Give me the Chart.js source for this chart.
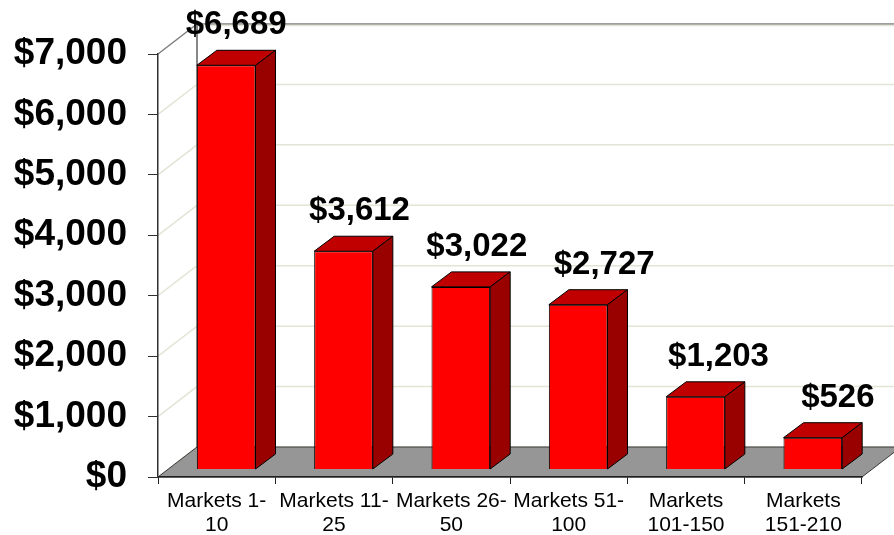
<!DOCTYPE html>
<html>
<head>
<meta charset="utf-8">
<script src="https://cdn.jsdelivr.net/npm/chart.js@4/dist/chart.umd.min.js"></script>
<style>
  html, body { margin: 0; padding: 0; background: #ffffff; }
  #wrap { width: 894px; height: 535px; }
</style>
</head>
<body>
<div id="wrap"><canvas id="c" width="894" height="535"></canvas></div>
<script>
// ---- data ----
const categories = [
  ["Markets 1-", "10"],
  ["Markets 11-", "25"],
  ["Markets 26-", "50"],
  ["Markets 51-", "100"],
  ["Markets", "101-150"],
  ["Markets", "151-210"]
];
const values = [6689, 3612, 3022, 2727, 1203, 526];
const yTicks = [0, 1000, 2000, 3000, 4000, 5000, 6000, 7000];

// ---- 3D look ----
const FONT = "'Liberation Sans', Arial, Helvetica, sans-serif";
const DEPTH = { dx: 39, dy: -30 };   // full floor depth
const FRONT = { dx: 9.5, dy: -7.5 }; // bar front face offset
const BAR = { dx: 20, dy: -15 };     // bar depth

function money(v) { return '$' + v.toLocaleString('en-US'); }

const threeD = {
  id: 'threeD',
  defaults: { labelNudgeX: [] },
  beforeDraw(chart) {
    const { ctx, chartArea: a, scales: { y } } = chart;
    ctx.save();
    // left side wall
    ctx.fillStyle = '#ffffff';
    ctx.beginPath();
    ctx.moveTo(a.left, a.top);
    ctx.lineTo(a.left + DEPTH.dx, a.top + DEPTH.dy);
    ctx.lineTo(a.left + DEPTH.dx, a.bottom + DEPTH.dy);
    ctx.lineTo(a.left, a.bottom);
    ctx.closePath();
    ctx.fill();
    // gridlines on side and back walls
    yTicks.forEach(t => {
      const py = y.getPixelForValue(t);
      const top = t === yTicks[yTicks.length - 1];
      ctx.strokeStyle = top ? '#808080' : '#e4e4d6';
      ctx.lineWidth = 1.5;
      ctx.beginPath();
      ctx.moveTo(a.left, py);
      ctx.lineTo(a.left + DEPTH.dx, py + DEPTH.dy);
      ctx.lineTo(a.right + DEPTH.dx, py + DEPTH.dy);
      ctx.stroke();
      if (top) {
        ctx.strokeStyle = '#e4e4d6';
        ctx.beginPath();
        ctx.moveTo(a.left + DEPTH.dx, py + DEPTH.dy + 1.5);
        ctx.lineTo(a.right + DEPTH.dx, py + DEPTH.dy + 1.5);
        ctx.stroke();
      }
    });
    // back-left corner edge
    ctx.strokeStyle = '#606060';
    ctx.lineWidth = 1.5;
    ctx.beginPath();
    ctx.moveTo(a.left + DEPTH.dx, a.top + DEPTH.dy);
    ctx.lineTo(a.left + DEPTH.dx, a.bottom + DEPTH.dy);
    ctx.stroke();
    // floor
    ctx.fillStyle = '#969696';
    ctx.strokeStyle = '#3a3a3a';
    ctx.lineWidth = 1;
    ctx.beginPath();
    ctx.moveTo(a.left, a.bottom);
    ctx.lineTo(a.right, a.bottom);
    ctx.lineTo(a.right + DEPTH.dx, a.bottom + DEPTH.dy);
    ctx.lineTo(a.left + DEPTH.dx, a.bottom + DEPTH.dy);
    ctx.closePath();
    ctx.fill();
    ctx.stroke();
    ctx.restore();
  },
  beforeDatasetsDraw(chart) {
    chart.ctx.save();
    chart.ctx.translate(FRONT.dx, FRONT.dy);
  },
  afterDatasetsDraw(chart, args, opts) {
    const ctx = chart.ctx;
    ctx.restore();
    const meta = chart.getDatasetMeta(0);
    const nudge = opts.labelNudgeX || [];
    ctx.save();
    ctx.lineWidth = 1;
    ctx.strokeStyle = '#000000';
    ctx.lineJoin = 'round';
    meta.data.forEach((bar, i) => {
      const p = bar.getProps(['x', 'y', 'base', 'width'], true);
      const L = p.x - p.width / 2 + FRONT.dx;
      const R = p.x + p.width / 2 + FRONT.dx;
      const T = p.y + FRONT.dy;
      const B = p.base + FRONT.dy;
      // top face
      ctx.fillStyle = '#c00000';
      ctx.beginPath();
      ctx.moveTo(L, T);
      ctx.lineTo(R, T);
      ctx.lineTo(R + BAR.dx, T + BAR.dy);
      ctx.lineTo(L + BAR.dx, T + BAR.dy);
      ctx.closePath();
      ctx.fill();
      ctx.stroke();
      // side face
      ctx.fillStyle = '#990000';
      ctx.beginPath();
      ctx.moveTo(R, T);
      ctx.lineTo(R + BAR.dx, T + BAR.dy);
      ctx.lineTo(R + BAR.dx, B + BAR.dy);
      ctx.lineTo(R, B);
      ctx.closePath();
      ctx.fill();
      ctx.stroke();
      // value label
      ctx.fillStyle = '#000000';
      ctx.font = 'bold 33px ' + FONT;
      ctx.textAlign = 'center';
      ctx.textBaseline = 'middle';
      ctx.fillText(money(values[i]), p.x + FRONT.dx + BAR.dx / 2 + (nudge[i] || 0), T + BAR.dy - 25);
    });
    ctx.restore();
  }
};

new Chart(document.getElementById('c'), {
  type: 'bar',
  data: {
    labels: categories,
    datasets: [{
      data: values,
      backgroundColor: '#ff0000',
      borderColor: '#000000',
      borderWidth: 1,
      barPercentage: 0.5,
      categoryPercentage: 1,
      clip: false
    }]
  },
  options: {
    responsive: false,
    animation: false,
    devicePixelRatio: 1,
    layout: { padding: { top: 54, right: 32, left: 0, bottom: 0 } },
    plugins: {
      legend: { display: false },
      tooltip: { enabled: false },
      threeD: { labelNudgeX: [0, 6, 6, 16, 13, 15] }
    },
    scales: {
      x: {
        grid: { display: true, drawOnChartArea: false, drawTicks: true, tickLength: 7, color: '#202020', offset: true },
        border: { display: true, color: '#202020', width: 1.5 },
        ticks: { color: '#000000', font: { family: FONT, size: 21, lineHeight: 1.15 }, padding: 5, maxRotation: 0, autoSkip: false },
        afterFit(s) { s.height = 58; }
      },
      y: {
        min: 0, max: 7000,
        afterBuildTicks(s) { s.ticks = yTicks.map(v => ({ value: v })); },
        grid: { display: true, drawOnChartArea: false, drawTicks: true, tickLength: 10, color: '#303030' },
        border: { display: true, color: '#303030', width: 1.5 },
        ticks: { color: '#000000', font: { family: FONT, size: 37, weight: 'bold' }, padding: 21, callback: v => money(v) },
        afterFit(s) { s.width = 158; }
      }
    }
  },
  plugins: [threeD]
});
</script>
</body>
</html>
